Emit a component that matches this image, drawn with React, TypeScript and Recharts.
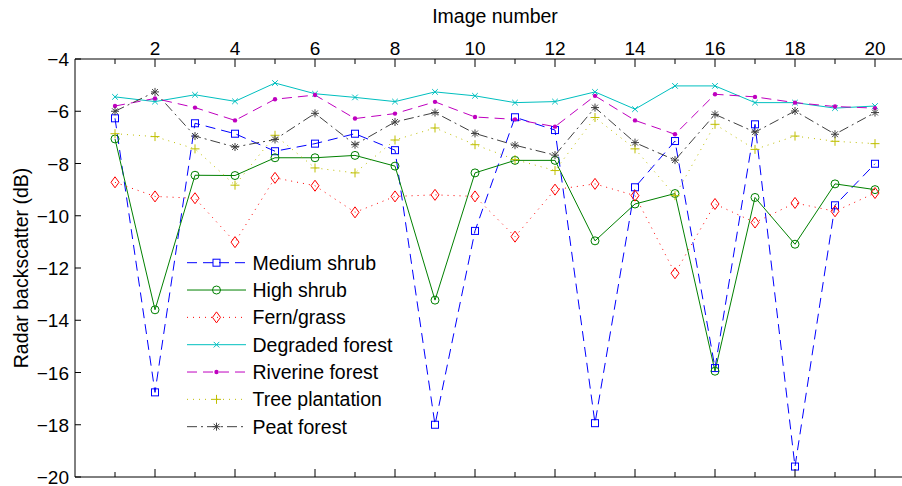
import React from 'react';
import { LineChart, Line, XAxis, YAxis } from 'recharts';

const imageNumbers = [1, 2, 3, 4, 5, 6, 7, 8, 9, 10, 11, 12, 13, 14, 15, 16, 17, 18, 19, 20];
const xTicks = [1, 2, 3, 4, 5, 6, 7, 8, 9, 10, 11, 12, 13, 14, 15, 16, 17, 18, 19, 20];
const yTicks = [-20, -18, -16, -14, -12, -10, -8, -6, -4];

const mediumShrub = [-6.27, -16.76, -6.46, -6.86, -7.53, -7.24, -6.86, -7.49, -18.0, -10.58, -6.23, -6.72, -17.94, -8.91, -7.14, -15.83, -6.5, -19.6, -9.6, -8.01];
const highShrub = [-7.06, -13.6, -8.45, -8.46, -7.78, -7.78, -7.69, -8.1, -13.23, -8.36, -7.88, -7.88, -10.96, -9.55, -9.15, -15.95, -9.3, -11.09, -8.78, -9.0];
const fernGrass = [-8.72, -9.26, -9.33, -11.01, -8.55, -8.85, -9.87, -9.26, -9.2, -9.26, -10.8, -9.0, -8.78, -9.23, -12.2, -9.55, -10.26, -9.51, -9.83, -9.13];
const degradedForest = [-5.45, -5.63, -5.37, -5.62, -4.92, -5.33, -5.47, -5.63, -5.26, -5.41, -5.67, -5.63, -5.26, -5.92, -5.03, -5.03, -5.67, -5.67, -5.88, -5.8];
const riverineForest = [-5.8, -5.51, -5.86, -6.35, -5.54, -5.38, -6.28, -6.09, -5.64, -6.22, -6.31, -6.59, -5.41, -6.35, -6.88, -5.35, -5.45, -5.67, -5.82, -5.88];
const treePlantation = [-6.86, -6.97, -7.44, -8.83, -6.92, -8.17, -8.36, -7.1, -6.64, -7.28, -7.85, -8.27, -6.24, -7.44, -9.23, -6.5, -7.46, -6.95, -7.15, -7.24];
const peatForest = [-6.0, -5.26, -6.95, -7.37, -7.08, -6.08, -7.28, -6.41, -6.05, -6.85, -7.3, -7.68, -5.86, -7.2, -7.87, -6.12, -6.8, -5.99, -6.88, -6.05];

const data = imageNumbers.map((n, i) => ({
  n,
  medium: mediumShrub[i],
  high: highShrub[i],
  fern: fernGrass[i],
  degraded: degradedForest[i],
  riverine: riverineForest[i],
  tree: treePlantation[i],
  peat: peatForest[i],
}));

type MarkerKind = 'square' | 'circle' | 'diamond' | 'x' | 'dot' | 'plus' | 'star';

const series: { key: string; name: string; color: string; dash?: string; marker: MarkerKind }[] = [
  { key: 'medium', name: 'Medium shrub', color: '#0000ff', dash: '10 6', marker: 'square' },
  { key: 'high', name: 'High shrub', color: '#008000', marker: 'circle' },
  { key: 'fern', name: 'Fern/grass', color: '#ff0000', dash: '1 5', marker: 'diamond' },
  { key: 'degraded', name: 'Degraded forest', color: '#00bfbf', marker: 'x' },
  { key: 'riverine', name: 'Riverine forest', color: '#bf00bf', dash: '10 6', marker: 'dot' },
  { key: 'tree', name: 'Tree plantation', color: '#bfbf00', dash: '1 5', marker: 'plus' },
  { key: 'peat', name: 'Peat forest', color: '#404040', dash: '10 4 2 4', marker: 'star' },
];

const FONT = '"Liberation Sans", Arial, Helvetica, sans-serif';

function Marker({ kind, cx, cy, color }: { kind: MarkerKind; cx: number; cy: number; color: string }) {
  const sw = 1;
  switch (kind) {
    case 'square':
      return <rect x={cx - 3.5} y={cy - 3.5} width={7} height={7} fill="none" stroke={color} strokeWidth={sw} />;
    case 'circle':
      return <circle cx={cx} cy={cy} r={4} fill="none" stroke={color} strokeWidth={sw} />;
    case 'diamond':
      return (
        <path
          d={`M${cx},${cy - 5.5} L${cx + 4},${cy} L${cx},${cy + 5.5} L${cx - 4},${cy} Z`}
          fill="none"
          stroke={color}
          strokeWidth={sw}
        />
      );
    case 'x': {
      const h = 2.8;
      return (
        <path d={`M${cx - h},${cy - h} L${cx + h},${cy + h} M${cx - h},${cy + h} L${cx + h},${cy - h}`} stroke={color} strokeWidth={sw} />
      );
    }
    case 'dot':
      return <circle cx={cx} cy={cy} r={2.2} fill={color} stroke="none" />;
    case 'plus': {
      const h = 4.5;
      return <path d={`M${cx - h},${cy} L${cx + h},${cy} M${cx},${cy - h} L${cx},${cy + h}`} stroke={color} strokeWidth={sw} />;
    }
    case 'star': {
      const h = 4;
      const d = 2.9;
      return (
        <path
          d={`M${cx - h},${cy} L${cx + h},${cy} M${cx},${cy - h} L${cx},${cy + h} M${cx - d},${cy - d} L${cx + d},${cy + d} M${cx - d},${cy + d} L${cx + d},${cy - d}`}
          stroke={color}
          strokeWidth={sw}
        />
      );
    }
  }
  return null;
}

const fmt = (v: number) => (v < 0 ? '\u2212' + Math.abs(v) : String(v));

function TopTick(props: any) {
  const { x, y, payload } = props;
  const v = payload.value as number;
  const even = v % 2 === 0;
  return (
    <g>
      <line x1={x} y1={y} x2={x} y2={y + (even ? 8 : 5)} stroke="#000" strokeWidth={1} />
      {even && (
        <text x={x} y={y - 4} textAnchor="middle" fontSize={19} fontFamily={FONT} fill="#000">
          {v}
        </text>
      )}
    </g>
  );
}

function BottomTick(props: any) {
  const { x, y, payload } = props;
  const v = payload.value as number;
  const even = v % 2 === 0;
  return <line x1={x} y1={y} x2={x} y2={y - (even ? 8 : 5)} stroke="#000" strokeWidth={1} />;
}

function LeftTick(props: any) {
  const { x, y, payload } = props;
  const v = payload.value as number;
  return (
    <g>
      <line x1={x} y1={y} x2={x + 6} y2={y} stroke="#000" strokeWidth={1} />
      <text x={x - 6} y={y + 7} textAnchor="end" fontSize={19} fontFamily={FONT} fill="#000">
        {fmt(v)}
      </text>
    </g>
  );
}

export default function App() {
  const rowTop = 262.7;
  const rowStep = 27.33;
  return (
    <div style={{ position: 'fixed', left: 0, top: 0, width: 902, height: 486, overflow: 'hidden', background: '#fff' }}>
      <LineChart width={920} height={486} data={data} margin={{ top: 0, right: 5, bottom: 0, left: 0 }}>
        <XAxis
          xAxisId="top"
          orientation="top"
          dataKey="n"
          type="number"
          domain={[0, 21]}
          ticks={xTicks}
          interval={0}
          height={59}
          tickSize={0}
          tickMargin={0}
          tickLine={false}
          axisLine={{ stroke: '#000', strokeWidth: 1 }}
          tick={<TopTick />}
          allowDataOverflow
        />
        <XAxis
          xAxisId="bottom"
          orientation="bottom"
          dataKey="n"
          type="number"
          domain={[0, 21]}
          ticks={xTicks}
          interval={0}
          height={9}
          tickSize={0}
          tickMargin={0}
          tickLine={false}
          axisLine={{ stroke: '#000', strokeWidth: 1 }}
          tick={<BottomTick />}
          allowDataOverflow
        />
        <YAxis
          type="number"
          domain={[-20, -4]}
          ticks={yTicks}
          interval={0}
          width={75}
          tickSize={0}
          tickMargin={0}
          tickLine={false}
          axisLine={{ stroke: '#000', strokeWidth: 1 }}
          tick={<LeftTick />}
          allowDataOverflow
        />
        {series.map((s) => (
          <Line
            key={s.key}
            xAxisId="top"
            dataKey={s.key}
            name={s.name}
            type="linear"
            stroke={s.color}
            strokeWidth={1}
            strokeDasharray={s.dash}
            isAnimationActive={false}
            activeDot={false}
            dot={(p: any) => <Marker key={`${s.key}-${p.index}`} kind={s.marker} cx={p.cx} cy={p.cy} color={s.color} />}
          />
        ))}
      </LineChart>
      <svg width={902} height={486} style={{ position: 'absolute', left: 0, top: 0, pointerEvents: 'none' }}>
        <text x={495} y={23} textAnchor="middle" fontSize={19.5} fontFamily={FONT} fill="#000">
          Image number
        </text>
        <text
          x={0}
          y={0}
          transform={`translate(28, 268) rotate(-90)`}
          textAnchor="middle"
          fontSize={19.5}
          fontFamily={FONT}
          fill="#000"
        >
          Radar backscatter (dB)
        </text>
        {series.map((s, i) => {
          const cy = rowTop + i * rowStep;
          return (
            <g key={s.key}>
              <line x1={187} y1={cy} x2={246} y2={cy} stroke={s.color} strokeWidth={1} strokeDasharray={s.dash} />
              <Marker kind={s.marker} cx={216.5} cy={cy} color={s.color} />
              <text x={252.5} y={cy + 7} fontSize={19.5} fontFamily={FONT} fill="#000">
                {s.name}
              </text>
            </g>
          );
        })}
      </svg>
    </div>
  );
}
